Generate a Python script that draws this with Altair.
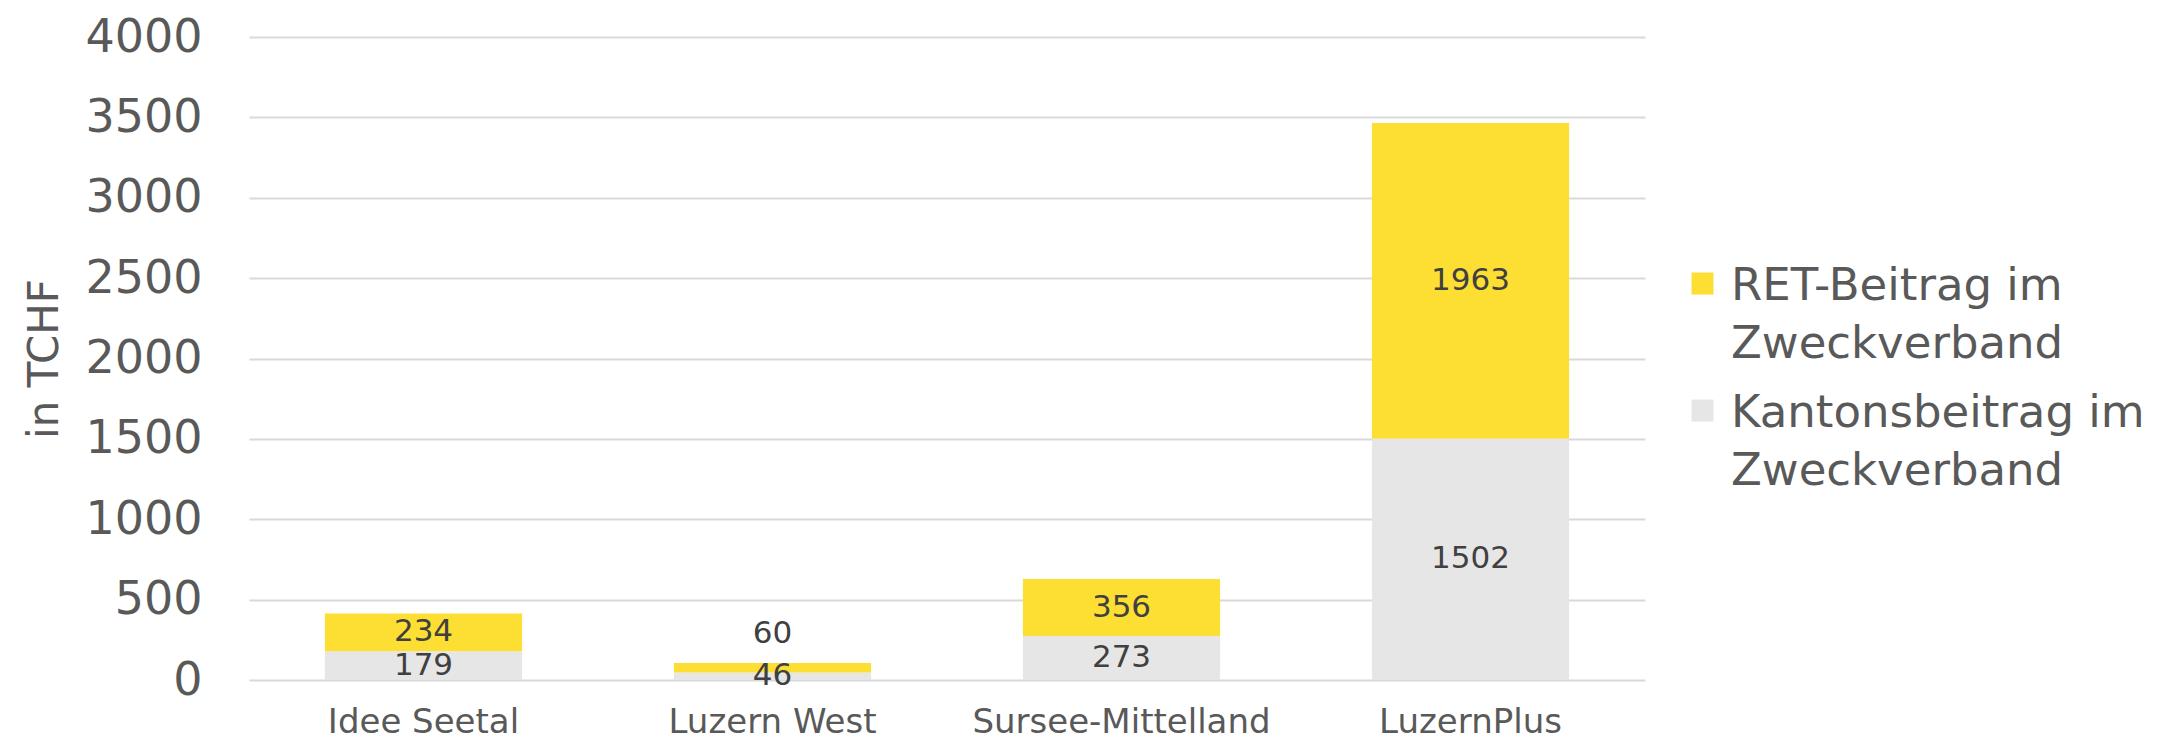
import altair as alt
import pandas as pd

categories = ["Idee Seetal", "Luzern West", "Sursee-Mittelland", "LuzernPlus"]
kanton_values = [179, 46, 273, 1502]
ret_values = [234, 60, 356, 1963]
series_names = ["RET-Beitrag im Zweckverband", "Kantonsbeitrag im Zweckverband"]
series_colors = ["#FDDE33", "#E6E6E6"]
y_ticks = [0, 500, 1000, 1500, 2000, 2500, 3000, 3500, 4000]

rows = []
for c, k, r in zip(categories, kanton_values, ret_values):
    rows.append({"cat": c, "series": series_names[1], "value": k, "ord": 0})
    rows.append({"cat": c, "series": series_names[0], "value": r, "ord": 1})
df = pd.DataFrame(rows)

FONT = "DejaVu Sans"
TXT = "#595959"

base = alt.Chart(df).transform_stack(
    stack="value", groupby=["cat"], as_=["y0", "y1"], sort=[alt.SortField("ord")]
)

x_enc = alt.X(
    "cat:N",
    sort=categories,
    title=None,
    scale=alt.Scale(paddingInner=0.435, paddingOuter=0.2175),
    axis=alt.Axis(
        labelAngle=0, labelFontSize=34, labelColor=TXT, labelFont=FONT, labelLimit=0,
        ticks=False, tickSize=0, domain=False, labelPadding=25, grid=False,
    ),
)

bars = base.mark_bar().encode(
    x=x_enc,
    y=alt.Y(
        "y0:Q",
        scale=alt.Scale(domain=[0, 4000], nice=False),
        title="in TCHF",
        axis=alt.Axis(
            values=y_ticks, format="d", labelFontSize=46, labelColor=TXT, labelFont=FONT,
            ticks=False, tickSize=0, domain=False, labelPadding=47,
            titleFontSize=42, titleColor=TXT, titleFont=FONT, titleFontWeight="normal",
            titlePadding=18, gridColor="#D9D9D9", gridWidth=1.8,
        ),
    ),
    y2="y1:Q",
    color=alt.Color(
        "series:N",
        scale=alt.Scale(domain=series_names, range=series_colors),
        title=None,
        legend=alt.Legend(
            orient="none", legendX=1431, legendY=240,
            labelFontSize=45, labelColor=TXT, labelFont=FONT, labelLimit=600,
            labelExpr="[slice(datum.label, 0, indexof(datum.label, ' im') + 3), slice(datum.label, indexof(datum.label, ' im') + 4)]",
            labelBaseline="alphabetic", labelOffset=6,
            symbolType="M-1,-2.45H1V-0.45H-1Z", symbolSize=484, symbolStrokeWidth=0,
            rowPadding=23,
        ),
    ),
    order=alt.Order("ord:Q"),
)

labels = base.transform_calculate(
    label_y="datum.ord == 1 && datum.value < 100 ? datum.y1 + 183 : (datum.y0 + datum.y1) / 2"
).mark_text(font=FONT, fontSize=31, color="#404040", baseline="middle").encode(
    x=alt.X("cat:N", sort=categories),
    y=alt.Y("label_y:Q"),
    text=alt.Text("value:Q"),
)

chart = alt.layer(bars, labels).properties(
    width=1396, height=643,
    autosize=alt.AutoSizeParams(type="none"),
    padding={"left": 241, "top": 29, "right": 505, "bottom": 64},
).configure(
    font=FONT,
    style={"guide-label": {"lineHeight": 58}},
).configure_view(strokeWidth=0, strokeOpacity=0)

chart.save("out.html", embed_options={"renderer": "svg", "actions": False})
